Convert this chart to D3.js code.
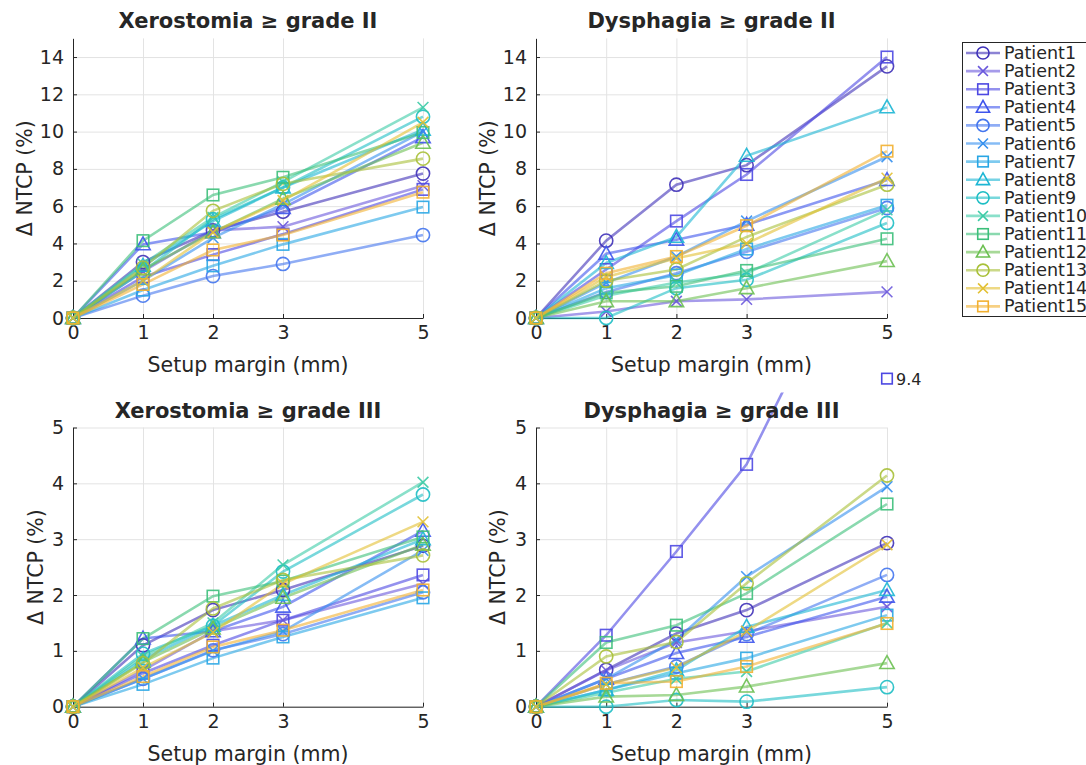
<!DOCTYPE html>
<html>
<head>
<meta charset="utf-8">
<script src="https://cdn.jsdelivr.net/npm/d3@7"></script>
<style>
  body { margin: 0; background: #fff; }
  svg text { font-family: "DejaVu Sans", sans-serif; fill: #262626; }
</style>
</head>
<body>
<div id="chart"></div>
<script>
// setup margins (mm)
var margins = [0, 1, 2, 3, 5];
var patients = ["Patient1","Patient2","Patient3","Patient4","Patient5","Patient6","Patient7","Patient8",
                "Patient9","Patient10","Patient11","Patient12","Patient13","Patient14","Patient15"];
var colors = ["#3f31b8","#6a58dc","#4d48e2","#3e55ec","#4476ee","#3590ee","#28a6e4","#1cb6d4",
              "#1ebec4","#3ccba6","#3cbf7a","#6cc052","#a8c038","#e2c032","#f2b030"];
var shapes = ["circle","x","square","triangle","circle","x","square","triangle",
              "circle","x","square","triangle","circle","x","square"];

// delta NTCP (%) per patient at each setup margin
var xeroII = [
  [0, 3.0, 4.7, 5.7, 7.75],
  [0, 2.5, 4.7, 4.9, 7.1],
  [0, 2.2, 3.4, 4.5, 6.9],
  [0, 3.95, 4.6, 5.9, 9.7],
  [0, 1.2, 2.25, 2.9, 4.45],
  [0, 2.0, 4.3, 6.1, 10.0],
  [0, 1.5, 2.8, 3.95, 5.95],
  [0, 2.8, 5.2, 7.0, 10.1],
  [0, 2.5, 5.3, 7.0, 10.8],
  [0, 2.9, 5.4, 7.3, 11.3],
  [0, 4.15, 6.6, 7.55, 9.95],
  [0, 2.6, 4.6, 6.4, 9.4],
  [0, 2.7, 5.75, 7.2, 8.55],
  [0, 2.0, 4.6, 6.3, 10.5],
  [0, 1.8, 3.65, 4.45, 6.75]
];
var dysII = [
  [0, 4.15, 7.15, 8.2, 13.5],
  [0, 0.35, 0.9, 1.0, 1.4],
  [0, 2.6, 5.2, 7.7, 14.0],
  [0, 3.45, 4.2, 5.0, 7.4],
  [0, 1.4, 2.4, 3.55, 5.9],
  [0, 1.9, 3.3, 5.2, 8.65],
  [0, 1.6, 2.3, 3.7, 6.05],
  [0, 2.95, 4.35, 8.7, 11.3],
  [0, 0.0, 1.6, 2.05, 5.1],
  [0, 1.2, 1.9, 2.4, 5.8],
  [0, 1.35, 1.7, 2.55, 4.25],
  [0, 0.9, 0.9, 1.6, 3.05],
  [0, 2.0, 2.6, 4.35, 7.15],
  [0, 2.2, 3.2, 4.0, 7.5],
  [0, 2.4, 3.3, 4.95, 8.95]
];
var xeroIII = [
  [0, 1.1, 1.73, 2.09, 2.88],
  [0, 0.65, 1.35, 1.55, 2.2],
  [0, 0.6, 1.1, 1.55, 2.36],
  [0, 1.22, 1.35, 1.79, 3.15],
  [0, 0.5, 1.01, 1.3, 2.05],
  [0, 0.5, 1.0, 1.35, 2.8],
  [0, 0.4, 0.87, 1.25, 1.95],
  [0, 0.85, 1.45, 2.0, 3.0],
  [0, 0.95, 1.45, 2.42, 3.8],
  [0, 0.9, 1.5, 2.54, 4.02],
  [0, 1.22, 1.98, 2.25, 3.04],
  [0, 0.8, 1.4, 1.95, 2.9],
  [0, 0.78, 1.76, 2.27, 2.71],
  [0, 0.7, 1.33, 2.2, 3.31],
  [0, 0.54, 1.07, 1.37, 2.09]
];
var dysIII = [
  [0, 0.66, 1.31, 1.73, 2.93],
  [0, 0.65, 1.15, 1.35, 1.79],
  [0, 1.28, 2.78, 4.34, 9.4],
  [0, 0.5, 0.96, 1.25, 1.97],
  [0, 0.4, 0.72, 1.3, 2.36],
  [0, 0.5, 1.2, 2.33, 3.94],
  [0, 0.3, 0.6, 0.87, 1.64],
  [0, 0.3, 0.65, 1.43, 2.09],
  [0, 0.0, 0.12, 0.09, 0.35],
  [0, 0.25, 0.5, 0.63, 1.5],
  [0, 1.15, 1.46, 2.03, 3.63],
  [0, 0.18, 0.21, 0.36, 0.78],
  [0, 0.9, 1.16, 2.21, 4.14],
  [0, 0.4, 0.7, 1.35, 2.9],
  [0, 0.42, 0.45, 0.72, 1.49]
];
var yTicksII = [0, 2, 4, 6, 8, 10, 12, 14];
var yTicksIII = [0, 1, 2, 3, 4, 5];

var w = 1086, h = 765;
var svg = d3.select("#chart").append("svg").attr("width", w).attr("height", h);

function marker(g, shape, color, size) {
  var s = size;
  if (shape == "circle") {
    g.append("circle").attr("r", s * 0.55).attr("fill", "none").attr("stroke", color).attr("stroke-width", 1.6);
  } else if (shape == "square") {
    g.append("rect").attr("x", -s * 0.48).attr("y", -s * 0.48).attr("width", s * 0.96).attr("height", s * 0.96)
      .attr("fill", "none").attr("stroke", color).attr("stroke-width", 1.6);
  } else if (shape == "triangle") {
    g.append("path").attr("d", "M0," + (-s * 0.62) + "L" + (s * 0.6) + "," + (s * 0.45) + "L" + (-s * 0.6) + "," + (s * 0.45) + "Z")
      .attr("fill", "none").attr("stroke", color).attr("stroke-width", 1.6);
  } else {
    var a = s * 0.45;
    g.append("path").attr("d", "M" + (-a) + "," + (-a) + "L" + a + "," + a + "M" + a + "," + (-a) + "L" + (-a) + "," + a)
      .attr("fill", "none").attr("stroke", color).attr("stroke-width", 1.6);
  }
}

var clipCount = 0;
function panel(data, opt) {
  var x = d3.scaleLinear().domain([0, 5]).range([opt.left, opt.right]);
  var y = d3.scaleLinear().domain([0, opt.ymax]).range([opt.bottom, opt.top]);
  var g = svg.append("g");

  // grid
  g.append("g").attr("transform", "translate(0," + opt.bottom + ")")
    .call(d3.axisBottom(x).tickValues(margins).tickSize(opt.top - opt.bottom).tickFormat(""))
    .call(function(s) { s.select(".domain").remove(); s.selectAll("line").attr("stroke", "#e3e3e3"); });
  g.append("g").attr("transform", "translate(" + opt.left + ",0)")
    .call(d3.axisLeft(y).tickValues(opt.ticks).tickSize(opt.left - opt.right).tickFormat(""))
    .call(function(s) { s.select(".domain").remove(); s.selectAll("line").attr("stroke", "#e3e3e3"); });

  // axes
  g.append("g").attr("transform", "translate(0," + opt.bottom + ")")
    .call(d3.axisBottom(x).tickValues(margins).tickFormat(d3.format("d")).tickSizeInner(-4).tickSizeOuter(0).tickPadding(8))
    .call(function(s) {
      s.select(".domain").attr("stroke", "#262626");
      s.selectAll("line").attr("stroke", "#262626");
      s.selectAll("text").attr("font-size", 19).attr("fill", "#262626");
    });
  g.append("g").attr("transform", "translate(" + opt.left + ",0)")
    .call(d3.axisLeft(y).tickValues(opt.ticks).tickFormat(d3.format("d")).tickSizeInner(-4).tickSizeOuter(0).tickPadding(9))
    .call(function(s) {
      s.select(".domain").attr("stroke", "#262626");
      s.selectAll("line").attr("stroke", "#262626");
      s.selectAll("text").attr("font-size", 19).attr("fill", "#262626");
    });

  // clip (lines may run a little above the axes, like the original)
  var cid = "clip" + (clipCount++);
  svg.append("clipPath").attr("id", cid).append("rect")
    .attr("x", opt.left - 10).attr("y", y(opt.ymax * opt.clipTop))
    .attr("width", opt.right - opt.left + 20).attr("height", opt.bottom - y(opt.ymax * opt.clipTop) + 10);

  var line = d3.line().x(function(d, i) { return x(margins[i]); }).y(function(d) { return y(d); });

  var lg = g.append("g").attr("clip-path", "url(#" + cid + ")");
  data.forEach(function(row, p) {
    lg.append("path").attr("d", line(row)).attr("fill", "none")
      .attr("stroke", colors[p]).attr("stroke-width", 2.6).attr("stroke-opacity", 0.6);
  });
  data.forEach(function(row, p) {
    row.forEach(function(v, i) {
      if (v > opt.ymax) {
        // off-scale point: marker and value shown above the axes
        var mg = g.append("g").attr("transform", "translate(" + x(margins[i]) + "," + y(opt.ymax * 1.175) + ")");
        marker(mg, shapes[p], colors[p], 11);
        g.append("text").attr("x", x(margins[i]) + 9).attr("y", y(opt.ymax * 1.175) + 6)
          .attr("font-size", 16).attr("fill", "#555").text(v);
        return;
      }
      var mg = lg.append("g").attr("transform", "translate(" + x(margins[i]) + "," + y(v) + ")")
        .attr("opacity", 0.9);
      marker(mg, shapes[p], colors[p], 12);
    });
  });

  // labels
  var cx = (opt.left + opt.right) / 2;
  g.append("text").attr("x", cx).attr("y", opt.titleY).attr("text-anchor", "middle")
    .attr("font-size", 21).attr("font-weight", "bold").attr("fill", "#000").text(opt.title);
  g.append("text").attr("x", cx).attr("y", opt.bottom + 54).attr("text-anchor", "middle")
    .attr("font-size", 20.5).text("Setup margin (mm)");
  g.append("text").attr("transform", "translate(" + opt.ylabX + "," + ((opt.top + opt.bottom) / 2) + ") rotate(-90)")
    .attr("text-anchor", "middle").attr("font-size", 20.5).text("\u0394 NTCP (%)");
}

panel(xeroII, { left: 73, right: 423, top: 38.4, bottom: 318, ymax: 15, ticks: yTicksII, clipTop: 1.0,
  title: "Xerostomia \u2265 grade II", titleY: 28, ylabX: 32 });
panel(dysII, { left: 536, right: 887, top: 38.4, bottom: 318, ymax: 15, ticks: yTicksII, clipTop: 1.0,
  title: "Dysphagia \u2265 grade II", titleY: 28, ylabX: 495 });
panel(xeroIII, { left: 73, right: 423, top: 427.5, bottom: 706.7, ymax: 5, ticks: yTicksIII, clipTop: 1.0,
  title: "Xerostomia \u2265 grade III", titleY: 418, ylabX: 43 });
panel(dysIII, { left: 536, right: 887, top: 427.5, bottom: 706.7, ymax: 5, ticks: yTicksIII, clipTop: 1.125,
  title: "Dysphagia \u2265 grade III", titleY: 418, ylabX: 505 });

// legend
var leg = svg.append("g");
leg.append("rect").attr("x", 962.5).attr("y", 42.5).attr("width", 140).attr("height", 274)
  .attr("fill", "#fff").attr("stroke", "#262626").attr("stroke-width", 1);
patients.forEach(function(name, p) {
  var yy = 53 + p * 18.1;
  leg.append("line").attr("x1", 966).attr("x2", 1000).attr("y1", yy).attr("y2", yy)
    .attr("stroke", colors[p]).attr("stroke-width", 2.6).attr("stroke-opacity", 0.6);
  var mg = leg.append("g").attr("transform", "translate(983," + yy + ")");
  marker(mg, shapes[p], colors[p], 11);
  leg.append("text").attr("x", 1004).attr("y", yy + 6).attr("font-size", 17.5).text(name);
});
</script>
</body>
</html>
